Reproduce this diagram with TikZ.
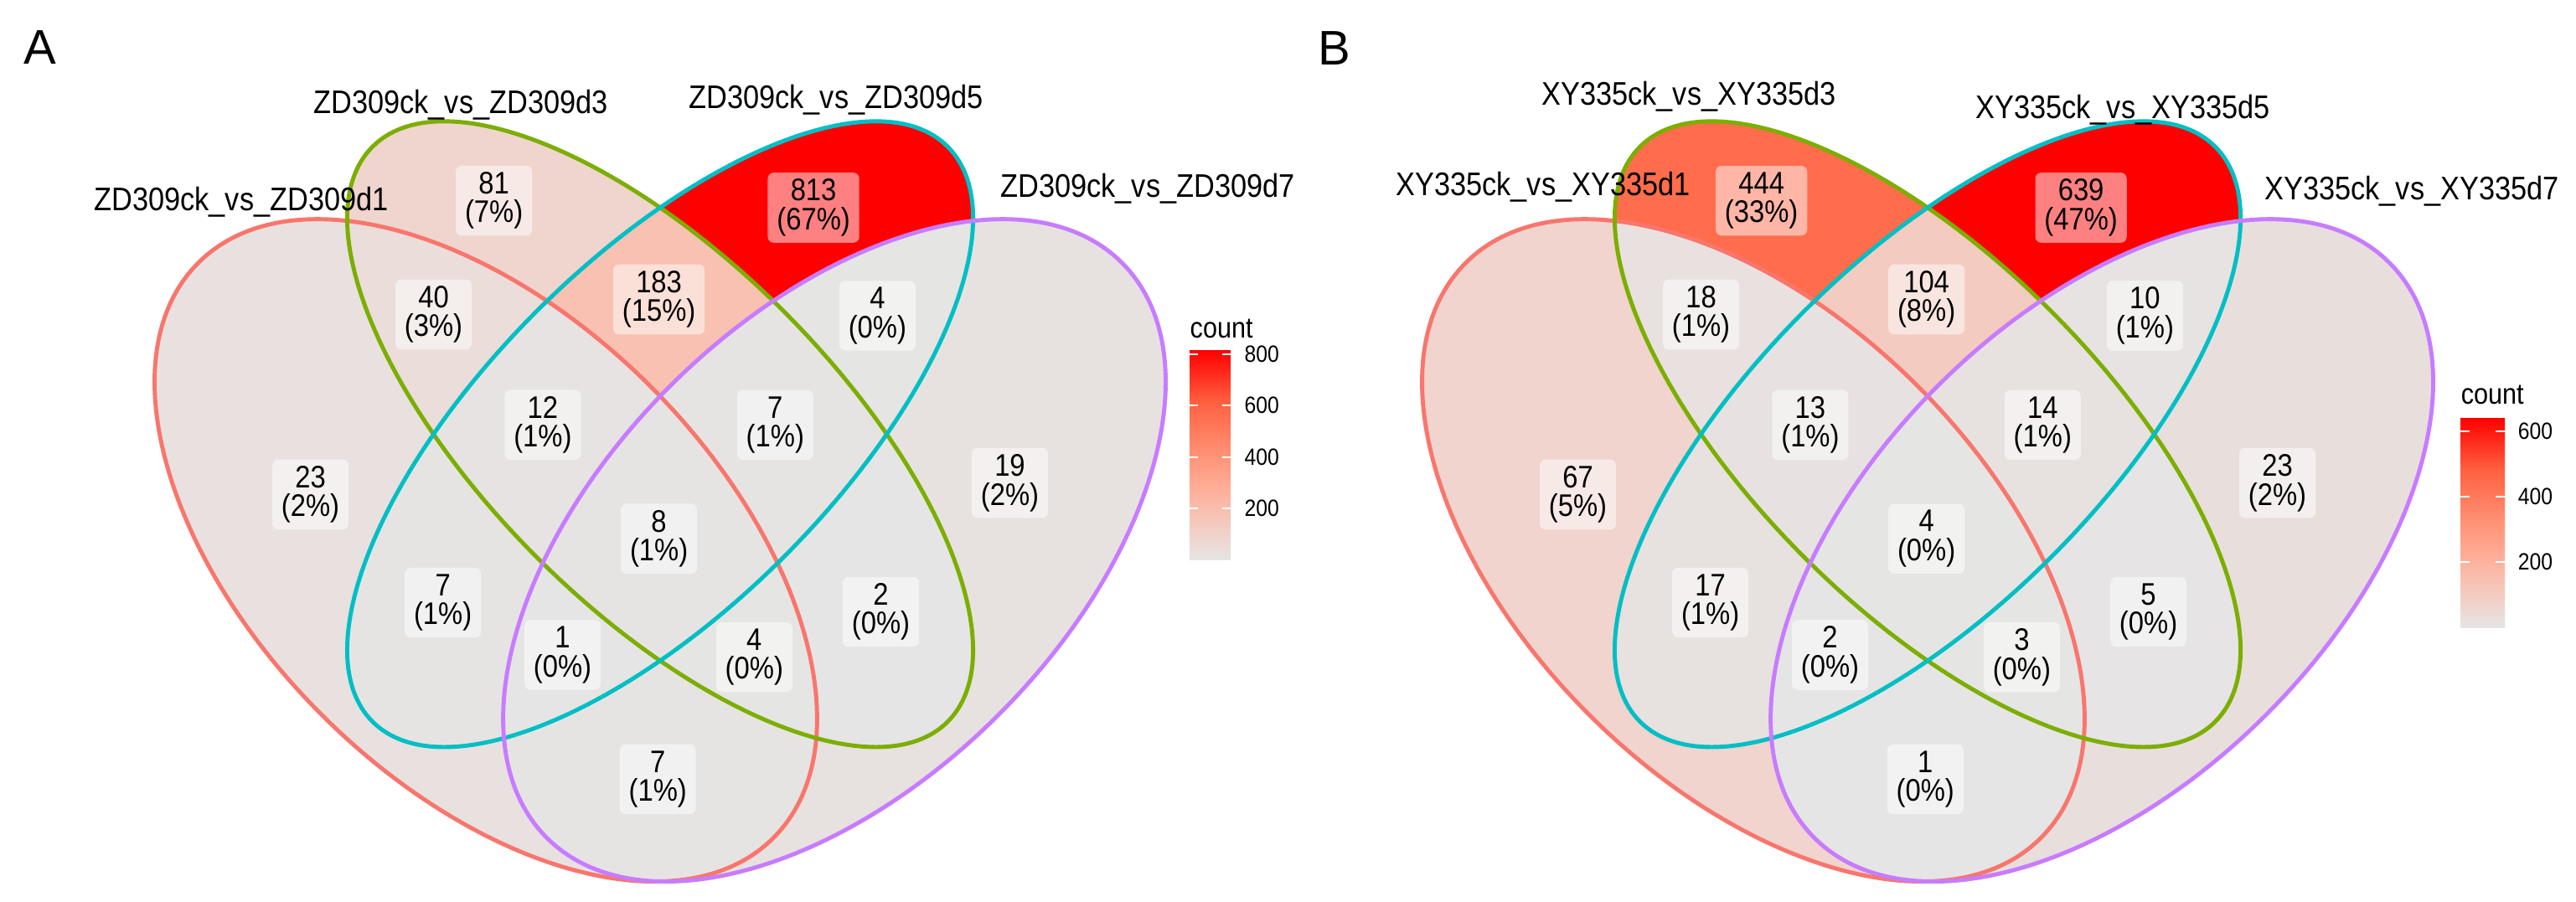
\documentclass[tikz,border=0pt]{standalone}
\usepackage{fontspec}
\setmainfont{Liberation Sans}
\newfontfamily\narrowsans[FakeStretch=0.88]{Liberation Sans}

\definecolor{setred}{HTML}{F8766D}
\definecolor{setgreen}{HTML}{7CAE00}
\definecolor{setcyan}{HTML}{00BFC4}
\definecolor{setpurple}{HTML}{C77CFF}
\definecolor{cntlow}{HTML}{E5E5E5}
\definecolor{cnt10}{HTML}{EFD5CE}
\definecolor{cnt22}{HTML}{F8C1B2}
\definecolor{cnt35}{HTML}{FFAC96}
\definecolor{cnt50}{HTML}{FF9276}
\definecolor{cnt75}{HTML}{FF6141}
\definecolor{cnthigh}{HTML}{FF0000}

\pgfdeclareverticalshading{countbar}{100bp}{color(0bp)=(cntlow); color(25bp)=(cntlow);
  color(30bp)=(cnt10); color(36.2bp)=(cnt22); color(42.5bp)=(cnt35); color(50bp)=(cnt50);
  color(62.5bp)=(cnt75); color(75bp)=(cnthigh); color(100bp)=(cnthigh)}

% the four sets (1 red, 2 green, 3 cyan, 4 purple), in unit coordinates of one panel
\newcommand\ePath[1]{\ifcase#1\or
  \pgfpathellipse{\pgfpointxy{0.35}{0.47}}{\pgfpointxy{0.24749}{-0.24749}}{\pgfpointxy{0.14142}{0.14142}}\or
  \pgfpathellipse{\pgfpointxy{0.5}{0.57}}{\pgfpointxy{0.24749}{-0.24749}}{\pgfpointxy{0.10607}{0.10607}}\or
  \pgfpathellipse{\pgfpointxy{0.5}{0.57}}{\pgfpointxy{0.24749}{0.24749}}{\pgfpointxy{-0.10607}{0.10607}}\or
  \pgfpathellipse{\pgfpointxy{0.65}{0.47}}{\pgfpointxy{0.24749}{0.24749}}{\pgfpointxy{-0.14142}{0.14142}}\fi}

% keep inside (1) or outside (0) of set #2
\newcommand\vclip[2]{\ifnum#1=1 \ePath{#2}\pgfusepath{clip}%
  \else\pgfseteorule
    \pgfpathrectanglecorners{\pgfpointxy{-0.05}{0}}{\pgfpointxy{1.05}{1}}%
    \ePath{#2}\pgfusepath{clip}\pgfsetnonzerorule\fi}
% fill one region: flags for red, green, cyan, purple, then HTML colour
\newcommand\venreg[5]{%
  \begin{scope}
    \definecolor{regfill}{HTML}{#5}%
    \vclip{#1}{1}\vclip{#2}{2}\vclip{#3}{3}\vclip{#4}{4}%
    \fill[regfill] (-0.05,0) rectangle (1.05,1);
  \end{scope}}

\tikzset{
  setline/.style={line width=1.4pt},
  cntbox/.style={fill=white, fill opacity=0.5, text opacity=1, rounded corners=2pt,
    align=center, inner xsep=3.1pt, inner ysep=2.2pt,
    font=\narrowsans\fontsize{10.6}{9.8}\selectfont},
  setname/.style={anchor=base, inner sep=0pt, font=\narrowsans\fontsize{11.1}{12}\selectfont},
  panelname/.style={inner sep=0pt, font=\fontsize{16.5}{18}\selectfont},
  bartick/.style={white, line width=0.6pt},
  barlabel/.style={anchor=west, inner sep=0pt, font=\narrowsans\fontsize{8}{9}\selectfont},
  bartitle/.style={anchor=base west, inner sep=0pt, font=\narrowsans\fontsize{9.9}{11}\selectfont}
}
% outlines of the four sets
\newcommand\venoutline{%
  \draw[setline, setred, rotate around={-45:(0.35,0.47)}] (0.35,0.47) ellipse [x radius=0.35, y radius=0.2];
  \draw[setline, setgreen, rotate around={-45:(0.5,0.57)}] (0.5,0.57) ellipse [x radius=0.35, y radius=0.15];
  \draw[setline, setcyan, rotate around={45:(0.5,0.57)}] (0.5,0.57) ellipse [x radius=0.35, y radius=0.15];
  \draw[setline, setpurple, rotate around={45:(0.65,0.47)}] (0.65,0.47) ellipse [x radius=0.35, y radius=0.2];}

\begin{document}
\begin{tikzpicture}
\useasboundingbox (0,0) rectangle (30.75,10.76);
\fill[white] (0,0) rectangle (30.75,10.76);

% ---- panel A
\node[panelname] (A-tag) at (0.48,10.19) {A};
\begin{scope}[shift={(0.945,-2.33)}, scale=13.87]
  \venreg{1}{0}{0}{0}{E8E1DF}
  \venreg{0}{1}{0}{0}{EFD5CE}
  \venreg{0}{0}{1}{0}{FF0000}
  \venreg{0}{0}{0}{1}{E7E2E0}
  \venreg{1}{1}{0}{0}{EADDDA}
  \venreg{1}{0}{1}{0}{E6E4E3}
  \venreg{0}{1}{1}{0}{F8C1B2}
  \venreg{0}{1}{0}{1}{E5E5E5}
  \venreg{0}{0}{1}{1}{E5E5E4}
  \venreg{1}{0}{0}{1}{E6E4E3}
  \venreg{1}{1}{1}{0}{E6E3E2}
  \venreg{0}{1}{1}{1}{E6E4E3}
  \venreg{1}{1}{0}{1}{E5E5E4}
  \venreg{1}{0}{1}{1}{E5E5E5}
  \venreg{1}{1}{1}{1}{E6E4E3}
  \venoutline
  \foreach \u/\v/\n/\p [count=\i] in {0.357/0.771/81/7, 0.632/0.765/813/67, 0.305/0.673/40/3,
      0.499/0.686/183/15, 0.687/0.672/4/0, 0.399/0.578/12/1, 0.599/0.578/7/1,
      0.199/0.518/23/2, 0.801/0.528/19/2, 0.499/0.480/8/1, 0.313/0.425/7/1,
      0.690/0.417/2/0, 0.416/0.380/1/0, 0.581/0.378/4/0, 0.498/0.273/7/1}
    \node[cntbox] (A-r\i) at (\u,\v) {\n\\(\p\%)};
\end{scope}
\node[setname] (A-d1) at (2.88,8.24) {ZD309ck\_vs\_ZD309d1};
\node[setname] (A-d3) at (5.50,9.40) {ZD309ck\_vs\_ZD309d3};
\node[setname] (A-d5) at (9.98,9.46) {ZD309ck\_vs\_ZD309d5};
\node[setname] (A-d7) at (13.70,8.40) {ZD309ck\_vs\_ZD309d7};
% legend A
\node[bartitle] (A-count) at (14.20,6.73) {count};
\shade[shading=countbar] (14.20,4.08) rectangle (14.69,6.58);
\foreach \y/\t in {6.53/800, 5.917/600, 5.303/400, 4.69/200} {
  \draw[bartick] (14.20,\y) -- ++(0.098,0);
  \draw[bartick] (14.69,\y) -- ++(-0.098,0);
  \node[barlabel] (A-tick\t) at (14.85,\y) {\t};
}

% ---- panel B
\node[panelname] (B-tag) at (15.93,10.18) {B};
\begin{scope}[shift={(16.075,-2.33)}, scale=13.87]
  \venreg{1}{0}{0}{0}{F0D4CD}
  \venreg{0}{1}{0}{0}{FF6D4D}
  \venreg{0}{0}{1}{0}{FF0000}
  \venreg{0}{0}{0}{1}{E8DFDD}
  \venreg{1}{1}{0}{0}{E8E1DF}
  \venreg{1}{0}{1}{0}{E7E1DF}
  \venreg{0}{1}{1}{0}{F4CBC0}
  \venreg{0}{1}{0}{1}{E6E4E4}
  \venreg{0}{0}{1}{1}{E6E3E2}
  \venreg{1}{0}{0}{1}{E5E5E5}
  \venreg{1}{1}{1}{0}{E7E2E1}
  \venreg{0}{1}{1}{1}{E7E2E0}
  \venreg{1}{1}{0}{1}{E5E5E4}
  \venreg{1}{0}{1}{1}{E5E5E5}
  \venreg{1}{1}{1}{1}{E5E5E4}
  \venoutline
  \foreach \u/\v/\n/\p [count=\i] in {0.357/0.771/444/33, 0.632/0.765/639/47, 0.305/0.673/18/1,
      0.499/0.686/104/8, 0.687/0.672/10/1, 0.399/0.578/13/1, 0.599/0.578/14/1,
      0.199/0.518/67/5, 0.801/0.528/23/2, 0.499/0.480/4/0, 0.313/0.425/17/1,
      0.690/0.417/5/0, 0.416/0.380/2/0, 0.581/0.378/3/0, 0.498/0.273/1/0}
    \node[cntbox] (B-r\i) at (\u,\v) {\n\\(\p\%)};
\end{scope}
\node[setname] (B-d1) at (18.42,8.42) {XY335ck\_vs\_XY335d1};
\node[setname] (B-d3) at (20.16,9.50) {XY335ck\_vs\_XY335d3};
\node[setname] (B-d5) at (25.34,9.34) {XY335ck\_vs\_XY335d5};
\node[setname] (B-d7) at (28.79,8.37) {XY335ck\_vs\_XY335d7};
% legend B
\node[bartitle] (B-count) at (29.37,5.94) {count};
\shade[shading=countbar] (29.37,3.27) rectangle (29.90,5.77);
\foreach \y/\t in {5.61/600, 4.83/400, 4.05/200} {
  \draw[bartick] (29.37,\y) -- ++(0.106,0);
  \draw[bartick] (29.90,\y) -- ++(-0.106,0);
  \node[barlabel] (B-tick\t) at (30.05,\y) {\t};
}
\end{tikzpicture}
\end{document}
